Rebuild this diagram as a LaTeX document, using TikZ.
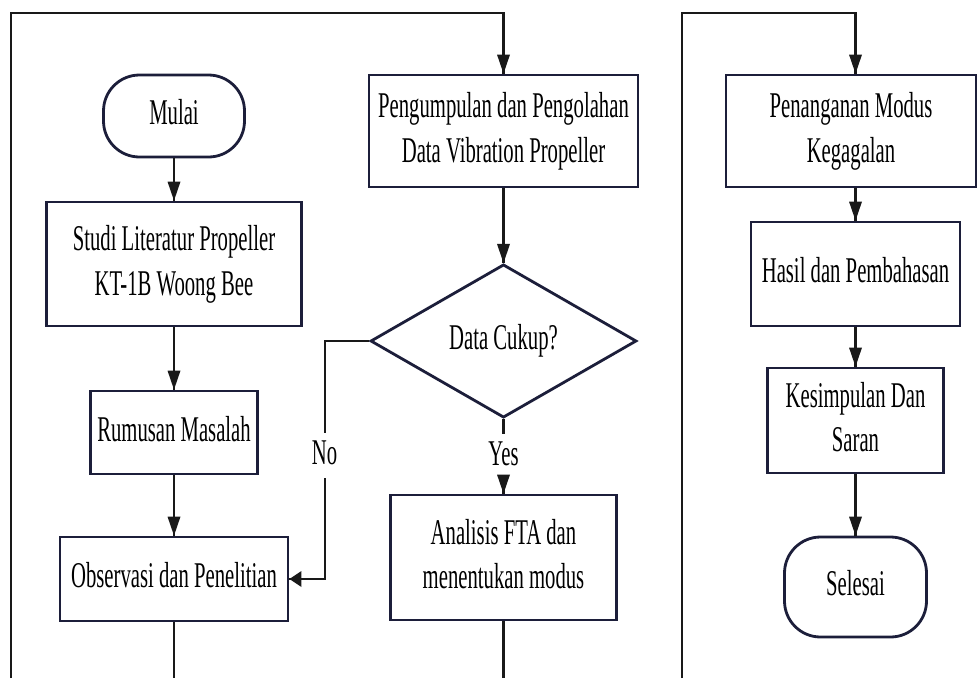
\documentclass[tikz,border=0pt]{standalone}
\usepackage{fontspec}
\setmainfont{Liberation Serif}
\usepackage{graphicx}
\usetikzlibrary{shapes.geometric}
\definecolor{boxline}{RGB}{28,30,58}
\definecolor{linkline}{RGB}{25,25,25}
\newcommand{\txt}[1]{\scalebox{1}[1.75]{\begin{tabular}{@{}c@{}}#1\end{tabular}}}
\begin{document}
\begin{tikzpicture}[x=1pt,y=1pt]
\tikzset{every node/.append style={inner sep=0pt, font=\fontsize{20.7}{25.5}\selectfont},
  procbox/.style={draw=boxline, line width=2.8pt, rectangle},
  termbox/.style={draw=boxline, line width=2.8pt, rectangle, rounded corners=36pt},
  decbox/.style={draw=boxline, line width=2.8pt, diamond},
  link/.style={draw=linkline, line width=2.1pt}}
\useasboundingbox (0,0) rectangle (977,-678);
% left column
\node [termbox, minimum width=141pt, minimum height=82pt] (mulai) at (174,-116) {\txt{Mulai}};
\node [procbox, minimum width=255pt, minimum height=124pt] (studi) at (174,-264) {\txt{Studi Literatur Propeller\\KT-1B Woong Bee}};
\node [procbox, minimum width=167pt, minimum height=83pt] (rumusan) at (174,-432.5) {\txt{Rumusan Masalah}};
\node [procbox, minimum width=228pt, minimum height=84pt] (obs) at (174,-579) {\txt{Observasi dan Penelitian}};
% middle column
\node [procbox, minimum width=269pt, minimum height=112pt] (peng) at (503.5,-131) {\txt{Pengumpulan dan Pengolahan\\Data Vibration Propeller}};
\node [decbox, minimum width=266pt, minimum height=132pt] (cukup) at (503.5,-341) {\txt{Data Cukup?}};
\node [procbox, minimum width=226pt, minimum height=125pt] (ana) at (503.5,-557.5) {\txt{Analisis FTA dan\\menentukan modus}};
% right column
\node [procbox, minimum width=250pt, minimum height=112pt] (pen) at (851,-131) {\txt{Penanganan Modus\\Kegagalan}};
\node [procbox, minimum width=209pt, minimum height=104pt] (hasil) at (855.5,-274) {\txt{Hasil dan Pembahasan}};
\node [procbox, minimum width=176pt, minimum height=105pt] (kes) at (855.5,-420.5) {\txt{Kesimpulan Dan\\Saran}};
\node [termbox, minimum width=142pt, minimum height=100pt] (sel) at (855.5,-587) {\txt{Selesai}};
% frame ends
\coordinate (lfoot) at (11,-678);
\coordinate (ltop) at (11,-13);
\coordinate (rfoot) at (682,-678);
\coordinate (rtop) at (682,-13);
% links
\draw [link] (mulai) -- (studi);
\fill [linkline] (studi.north) -- ++(-6.5,19) -- ++(13,0) -- cycle;
\draw [link] (studi) -- (rumusan);
\fill [linkline] (rumusan.north) -- ++(-6.5,19) -- ++(13,0) -- cycle;
\draw [link] (rumusan) -- (obs);
\fill [linkline] (obs.north) -- ++(-6.5,19) -- ++(13,0) -- cycle;
\draw [link] (obs) -- (obs |- lfoot);
\draw [link] (lfoot) -- (ltop) -- (ltop -| peng) -- (peng);
\fill [linkline] (peng.north) -- ++(-6.5,19) -- ++(13,0) -- cycle;
\draw [link] (peng) -- (cukup);
\fill [linkline] (cukup.north) -- ++(-6.5,19) -- ++(13,0) -- cycle;
\draw [link] (cukup) -- node [fill=white] {\txt{Yes}} (ana);
\fill [linkline] (ana.north) -- ++(-6.5,19) -- ++(13,0) -- cycle;
\draw [link] (cukup.west) -- ++(-44.5,0) |- node [pos=0.24, fill=white] {\txt{No}} (obs.east);
\fill [linkline] (obs.east) -- ++(12,8) -- ++(0,-16) -- cycle;
\draw [link] (ana) -- (ana |- rfoot);
\draw [link] (rfoot) -- (rtop) -- (rtop -| hasil) -- (hasil |- pen.north);
\fill [linkline] (hasil |- pen.north) -- ++(-6.5,19) -- ++(13,0) -- cycle;
\draw [link] (pen.south -| hasil) -- (hasil);
\fill [linkline] (hasil.north) -- ++(-6.5,19) -- ++(13,0) -- cycle;
\draw [link] (hasil) -- (kes);
\fill [linkline] (kes.north) -- ++(-6.5,19) -- ++(13,0) -- cycle;
\draw [link] (kes) -- (sel);
\fill [linkline] (sel.north) -- ++(-6.5,19) -- ++(13,0) -- cycle;
\end{tikzpicture}
\end{document}
